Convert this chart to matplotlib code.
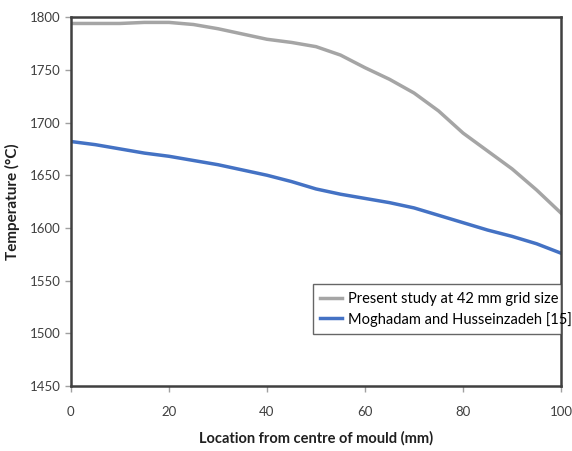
import matplotlib
matplotlib.use("Agg")
import matplotlib.pyplot as plt

plt.rcParams['font.family'] = ['Lato', 'DejaVu Sans']

location = [0, 5, 10, 15, 20, 25, 30, 35, 40, 45, 50, 55, 60, 65, 70, 75, 80, 85, 90, 95, 100]
present = [1794, 1794, 1794, 1795, 1795, 1793, 1789, 1784, 1779, 1776, 1772, 1764, 1752, 1741, 1728, 1711, 1690, 1673, 1656, 1636, 1614]
moghadam = [1682, 1679, 1675, 1671, 1668, 1664, 1660, 1655, 1650, 1644, 1637, 1632, 1628, 1624, 1619, 1612, 1605, 1598, 1592, 1585, 1576]

labels = ["Present study at 42 mm grid size", "Moghadam and Husseinzadeh [15]"]

fig = plt.figure(figsize=(5.72, 4.51), dpi=100)
ax = fig.add_axes([0.124, 0.144, 0.857, 0.818])
ax.plot(location, present, color='#a5a5a5', lw=2.5, label=labels[0])
ax.plot(location, moghadam, color='#4472c4', lw=2.5, label=labels[1])

ax.set_xlim(0, 100)
ax.set_ylim(1450, 1800)
ax.set_xticks(range(0, 101, 20))
ax.set_yticks(range(1450, 1801, 50))
for s in ax.spines.values():
    s.set_color('#404040')
    s.set_linewidth(1.8)
ax.tick_params(axis='both', colors='#a0a0a0', labelcolor='#404040', labelsize=9.5, length=4, direction='out', width=1)
ax.tick_params(axis='x', pad=10)
ax.set_xlabel("Location from centre of mould (mm)", fontsize=10.5, fontweight='bold', labelpad=10, color='#202020')
ax.set_ylabel("Temperature (°C)", fontsize=11, fontweight='bold', labelpad=7, color='#202020')

leg = ax.legend(loc='center', bbox_to_anchor=(0.493, 0.149, 0.507, 0.119), mode='expand',
                fontsize=10.5, frameon=True, fancybox=False, borderaxespad=0,
                handlelength=1.5, handletextpad=0.4, labelspacing=0.4, borderpad=0.5)
leg.get_frame().set_edgecolor('#404040')
leg.get_frame().set_linewidth(1)

fig.savefig("out.png", dpi=100)
